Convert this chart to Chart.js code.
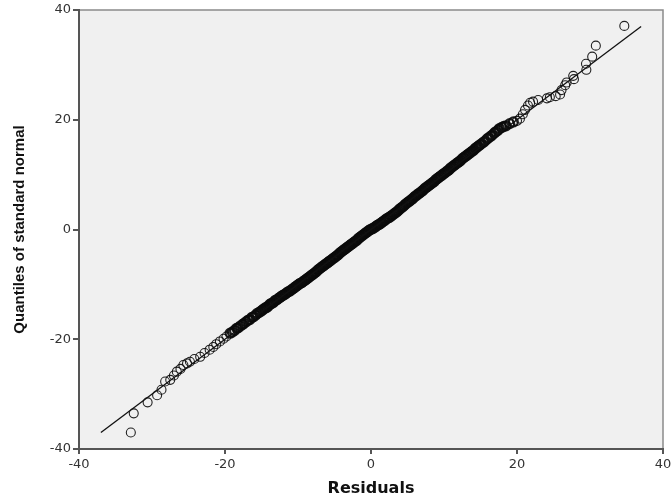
<!DOCTYPE html>
<html>
<head>
    <title>Normal Q-Q plot of residuals</title>
    <script src="https://cdn.jsdelivr.net/npm/chart.js"></script>
    <style>
        body { margin: 0; background: #fff; }
        #wrap { width: 671px; height: 502px; }
    </style>
</head>
<body>
<div id="wrap"><canvas id="qq"></canvas></div>
<script>
    // residuals (x) and matching quantiles (y)
    const residuals = [
        -32.9, -32.5, -30.6, -29.3, -28.7, -28.2, -27.5, -27.0, -26.6, -26.1,
        -25.7, -25.2, -24.8, -24.2, -23.4, -22.8, -22.1, -21.6, -21.2, -20.7,
        -20.2, -19.8, -19.3,
        -19.0, -18.7, -18.4, -18.2, -17.9, -17.6, -17.4, -17.1, -16.8, -16.6, -16.3, -16.1, -15.8, -15.6, -15.3, -15.1,
        -14.9, -14.7, -14.5, -14.3, -14.1, -13.9, -13.7, -13.5, -13.3, -13.1, -12.9, -12.7, -12.5,
        -12.3, -12.1, -11.9, -11.7, -11.5, -11.3, -11.1, -10.9, -10.7, -10.5, -10.3, -10.1,
        -9.9, -9.7, -9.5, -9.3, -9.1, -8.9, -8.7, -8.5, -8.3, -8.1, -7.9, -7.7, -7.5,
        -7.3, -7.1, -6.9, -6.7, -6.5, -6.3, -6.1, -5.9, -5.7, -5.5, -5.3, -5.1,
        -4.9, -4.7, -4.5, -4.3, -4.1, -3.9, -3.7, -3.5, -3.3, -3.1, -2.9, -2.7, -2.5,
        -2.3, -2.1, -1.9, -1.7, -1.5, -1.3, -1.1, -0.9, -0.7, -0.5, -0.3, -0.1,
        0.1, 0.3, 0.5, 0.7, 0.9, 1.1, 1.3, 1.5, 1.7, 1.9, 2.1, 2.3, 2.5,
        2.7, 2.9, 3.1, 3.3, 3.5, 3.7, 3.9, 4.1, 4.3, 4.5, 4.7, 4.9,
        5.1, 5.3, 5.5, 5.7, 5.9, 6.1, 6.3, 6.5, 6.7, 6.9, 7.1, 7.3, 7.5,
        7.7, 7.9, 8.1, 8.3, 8.5, 8.7, 8.9, 9.1, 9.3, 9.5, 9.7, 9.9,
        10.1, 10.3, 10.5, 10.7, 10.9, 11.1, 11.3, 11.5, 11.7, 11.9, 12.1, 12.3, 12.5,
        12.7, 12.9, 13.1, 13.3, 13.5, 13.7, 13.9, 14.1, 14.3, 14.5, 14.7, 14.9,
        15.1, 15.4, 15.6, 15.9, 16.1, 16.4, 16.6, 16.9, 17.1, 17.4, 17.6, 17.9, 18.2,
        18.5, 19.0, 19.5, 20.0, 20.4, 20.8, 21.1, 21.5, 21.8, 22.2,
        22.9, 24.1, 24.5, 25.3, 25.9, 26.1, 26.6, 26.8, 27.7, 27.8,
        29.5, 29.45, 30.3, 30.8, 34.7
    ];
    const quantiles = [
        -37.0, -33.5, -31.5, -30.2, -29.2, -27.7, -27.4, -26.6, -25.9, -25.4,
        -24.7, -24.4, -24.1, -23.6, -23.2, -22.5, -21.9, -21.4, -20.9, -20.4,
        -19.9, -19.5, -18.9,
        -18.7, -18.4, -18.0, -17.9, -17.6, -17.3, -17.1, -16.8, -16.5, -16.4, -16.0, -15.9, -15.6, -15.3, -15.1, -14.9,
        -14.7, -14.5, -14.3, -14.2, -14.0, -13.7, -13.5, -13.4, -13.2, -12.9, -12.8, -12.6, -12.4,
        -12.2, -12.0, -11.9, -11.7, -11.5, -11.3, -11.2, -11.0, -10.8, -10.6, -10.4, -10.2,
        -10.0, -9.8, -9.7, -9.5, -9.3, -9.1, -8.9, -8.7, -8.5, -8.3, -8.1, -7.9, -7.7,
        -7.4, -7.2, -7.0, -6.8, -6.6, -6.4, -6.2, -6.0, -5.8, -5.6, -5.4, -5.2,
        -5.0, -4.8, -4.6, -4.3, -4.1, -3.9, -3.7, -3.5, -3.3, -3.1, -2.9, -2.7, -2.5,
        -2.3, -2.1, -1.9, -1.6, -1.4, -1.2, -1.0, -0.8, -0.6, -0.4, -0.2, 0.0,
        0.1, 0.2, 0.4, 0.6, 0.8, 0.9, 1.1, 1.3, 1.5, 1.7, 1.9, 2.1, 2.2,
        2.4, 2.6, 2.8, 3.0, 3.2, 3.4, 3.7, 3.9, 4.1, 4.3, 4.6, 4.8,
        5.0, 5.2, 5.4, 5.6, 5.9, 6.1, 6.3, 6.5, 6.7, 6.9, 7.1, 7.4, 7.6,
        7.8, 8.0, 8.2, 8.4, 8.6, 8.8, 9.1, 9.3, 9.5, 9.7, 9.9, 10.1,
        10.3, 10.5, 10.7, 10.9, 11.2, 11.4, 11.6, 11.8, 12.0, 12.2, 12.4, 12.6, 12.9,
        13.1, 13.3, 13.5, 13.7, 13.9, 14.1, 14.3, 14.5, 14.8, 15.0, 15.2, 15.4,
        15.6, 15.9, 16.1, 16.5, 16.7, 17.0, 17.2, 17.6, 17.8, 18.1, 18.4, 18.6, 18.8,
        18.9, 19.3, 19.6, 19.8, 20.2, 21.0, 21.8, 22.6, 23.1, 23.3,
        23.6, 23.9, 24.1, 24.3, 24.6, 25.4, 26.3, 26.8, 28.0, 27.4,
        29.1, 30.2, 31.5, 33.5, 37.1
    ];
    // reference line ends
    const lineX = [-37, 37];
    const lineY = [-37, 37];
    const xTicks = [-40, -20, 0, 20, 40];
    const yTicks = [-40, -20, 0, 20, 40];

    const points = residuals.map((r, i) => ({ x: r, y: quantiles[i] }));
    const refLine = lineX.map((v, i) => ({ x: v, y: lineY[i] }));

    // grey plot background plus thin frame on top/right
    const plotBackground = {
        id: 'plotBackground',
        beforeDraw(chart) {
            const { ctx, chartArea: a } = chart;
            ctx.save();
            ctx.fillStyle = '#f0f0f0';
            ctx.fillRect(a.left, a.top, a.right - a.left, a.bottom - a.top);
            ctx.strokeStyle = '#8a8a8a';
            ctx.lineWidth = 1.5;
            ctx.beginPath();
            ctx.moveTo(a.left, a.top);
            ctx.lineTo(a.right, a.top);
            ctx.lineTo(a.right, a.bottom);
            ctx.stroke();
            ctx.restore();
        }
    };

    const tickFont = { family: 'DejaVu Sans', size: 13 };

    new Chart(document.getElementById('qq'), {
        type: 'scatter',
        data: {
            datasets: [{
                data: points,
                pointStyle: 'circle',
                pointRadius: 4.5,
                // thin rings out in the sparse tails, heavier in the dense band
                pointBorderWidth: c => (Math.abs(c.raw.x) > 19.5 ? 1.1 : 2.2),
                borderColor: 'rgba(10, 10, 10, 0.9)',
                backgroundColor: 'rgba(0, 0, 0, 0)',
                order: 2
            }, {
                type: 'line',
                data: refLine,
                borderColor: '#111',
                borderWidth: 1.3,
                pointRadius: 0,
                fill: false,
                order: 1
            }]
        },
        options: {
            responsive: true,
            maintainAspectRatio: false,
            animation: false,
            layout: { padding: { top: 10, right: 8, left: 0, bottom: 0 } },
            plugins: {
                legend: { display: false },
                tooltip: { enabled: false }
            },
            scales: {
                x: {
                    type: 'linear',
                    min: -40,
                    max: 40,
                    afterBuildTicks: s => { s.ticks = xTicks.map(v => ({ value: v })); },
                    ticks: { font: tickFont, color: '#333', padding: 3, maxRotation: 0 },
                    grid: { drawOnChartArea: false, tickLength: 5, color: '#555', lineWidth: 2 },
                    border: { color: '#555', width: 2 },
                    title: {
                        display: true,
                        text: 'Residuals',
                        color: '#111',
                        font: { family: 'DejaVu Sans', size: 16, weight: 'bold' },
                        padding: { top: 0, bottom: 4 }
                    },
                    afterFit: s => { s.height = 53; s.paddingRight = 8; }
                },
                y: {
                    type: 'linear',
                    min: -40,
                    max: 40,
                    afterBuildTicks: s => { s.ticks = yTicks.map(v => ({ value: v })); },
                    ticks: { font: tickFont, color: '#333', padding: 2 },
                    grid: { drawOnChartArea: false, tickLength: 6, color: '#555', lineWidth: 2 },
                    border: { color: '#555', width: 2 },
                    title: {
                        display: true,
                        text: 'Quantiles of standard normal',
                        color: '#111',
                        font: { family: 'Liberation Sans', size: 15, weight: 'bold' },
                        padding: { top: 11, bottom: 0 }
                    },
                    afterFit: s => { s.width = 79; }
                }
            }
        },
        plugins: [plotBackground]
    });
</script>
</body>
</html>
